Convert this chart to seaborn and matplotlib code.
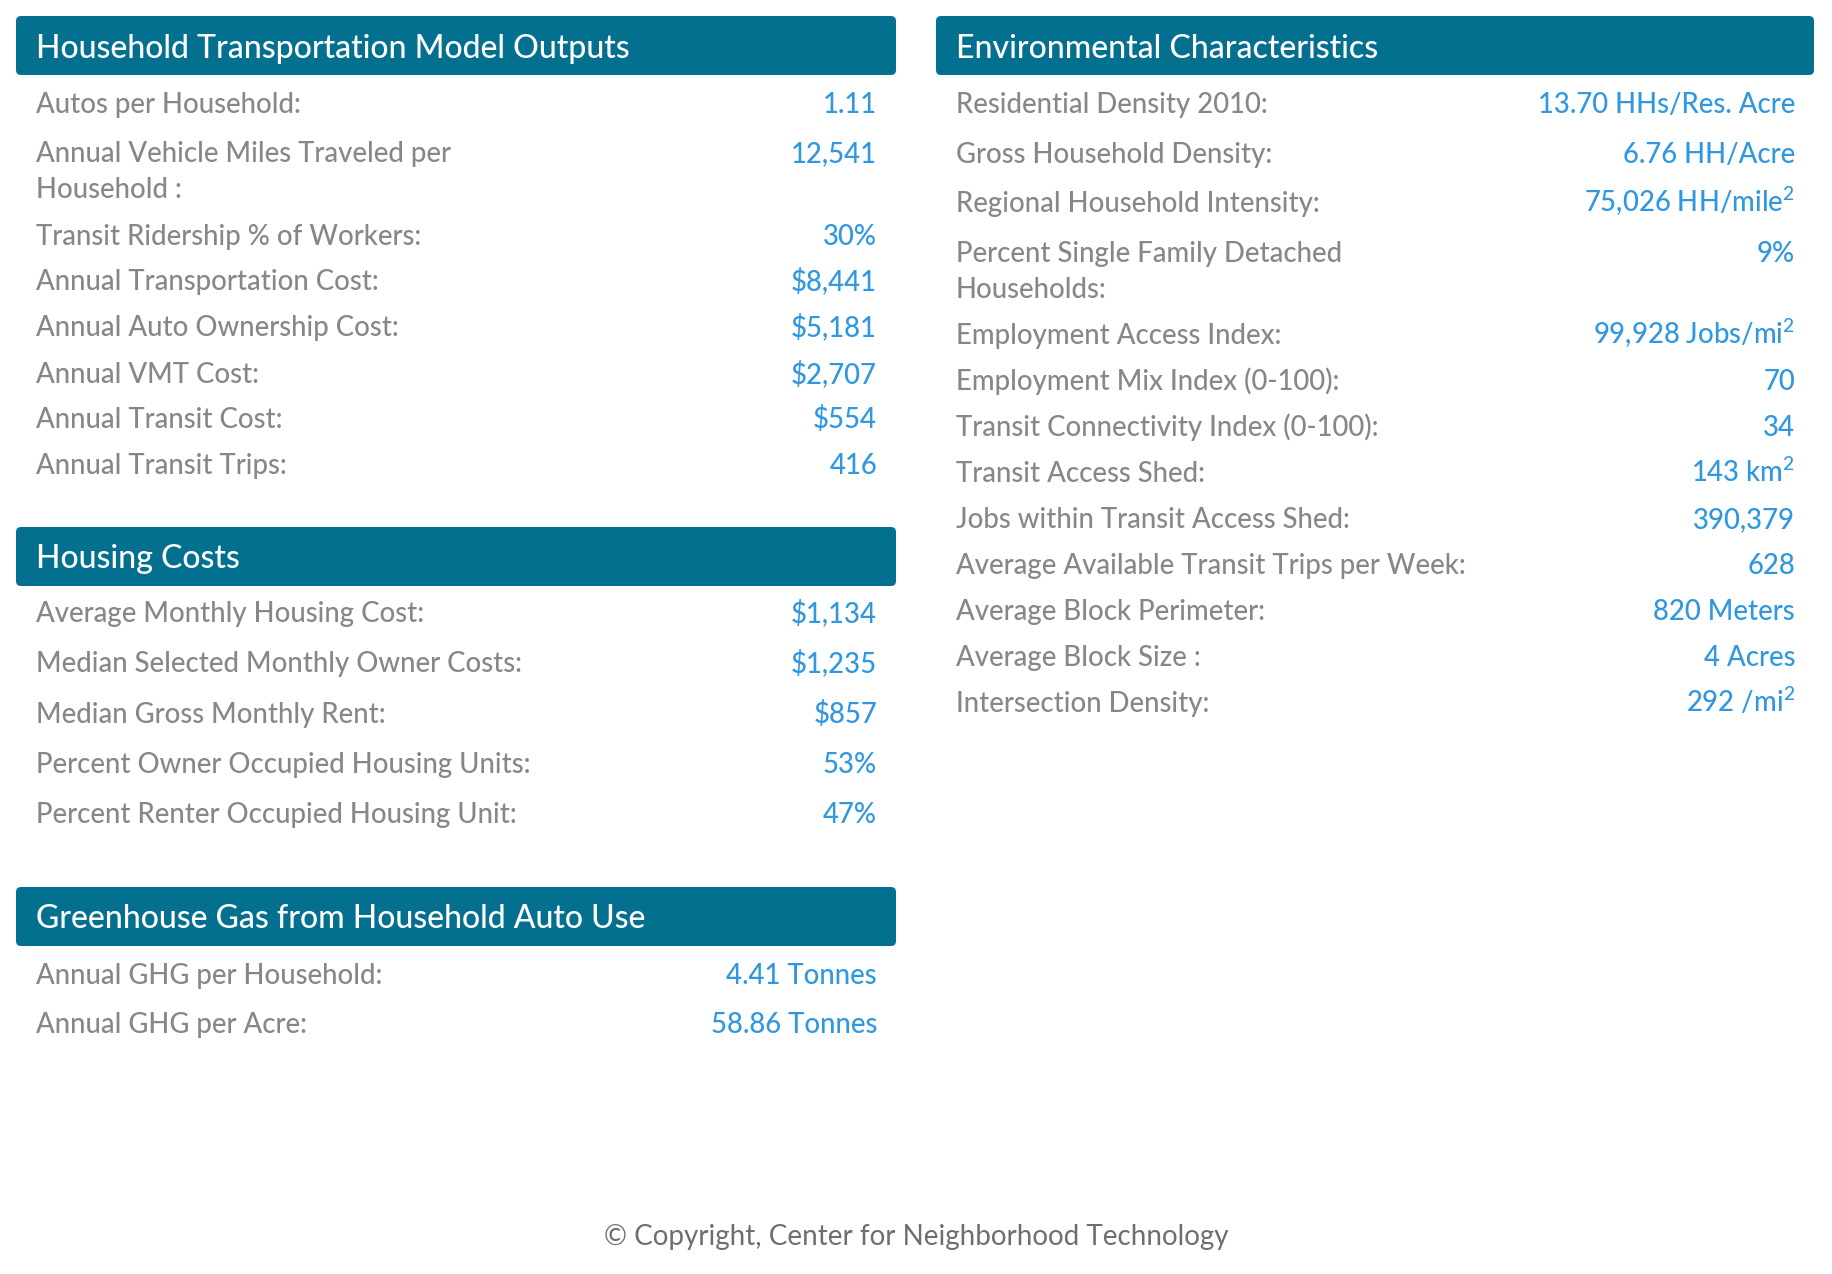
import matplotlib
matplotlib.use("Agg")
import matplotlib.pyplot as plt
from matplotlib.patches import FancyBboxPatch
import seaborn as sns

# ---- values ----
transport_title = "Household Transportation Model Outputs"
transport_labels = [
    "Autos per Household:",
    "Annual Vehicle Miles Traveled per\nHousehold :",
    "Transit Ridership % of Workers:",
    "Annual Transportation Cost:",
    "Annual Auto Ownership Cost:",
    "Annual VMT Cost:",
    "Annual Transit Cost:",
    "Annual Transit Trips:",
]
transport_values = ["1.11", "12,541", "30%", "$8,441", "$5,181", "$2,707", "$554", "416"]

housing_title = "Housing Costs"
housing_labels = [
    "Average Monthly Housing Cost:",
    "Median Selected Monthly Owner Costs:",
    "Median Gross Monthly Rent:",
    "Percent Owner Occupied Housing Units:",
    "Percent Renter Occupied Housing Unit:",
]
housing_values = ["$1,134", "$1,235", "$857", "53%", "47%"]

ghg_title = "Greenhouse Gas from Household Auto Use"
ghg_labels = ["Annual GHG per Household:", "Annual GHG per Acre:"]
ghg_values = ["4.41 Tonnes", "58.86 Tonnes"]

env_title = "Environmental Characteristics"
env_labels = [
    "Residential Density 2010:",
    "Gross Household Density:",
    "Regional Household Intensity:",
    "Percent Single Family Detached\nHouseholds:",
    "Employment Access Index:",
    "Employment Mix Index (0-100):",
    "Transit Connectivity Index (0-100):",
    "Transit Access Shed:",
    "Jobs within Transit Access Shed:",
    "Average Available Transit Trips per Week:",
    "Average Block Perimeter:",
    "Average Block Size :",
    "Intersection Density:",
]
env_values = [
    "13.70 HHs/Res. Acre", "6.76 HH/Acre", "75,026 HH/mile$^2$", "9%",
    "99,928 Jobs/mi$^2$", "70", "34", "143 km$^2$", "390,379", "628",
    "820 Meters", "4 Acres", "292 /mi$^2$",
]

copyright_text = "\u00a9 Copyright, Center for Neighborhood Technology"

# ---- layout (pixels, top-down) ----
W, H = 1832, 1274
LEFT = (16, 896)
RIGHT = (936, 1814)
transport_rows = [104, 153, 236, 281, 327, 374, 419, 465]
housing_rows = [613, 663, 714, 764, 814]
ghg_rows = [975, 1024]
env_rows = [104, 154, 203, 253, 335, 381, 427, 473, 519, 565, 611, 657, 703]

HEADER = "#04708f"
LABEL = "#878787"
VALUE = "#2f98e0"
FOOT = "#6e6e6e"
ROW_FS = 19.8
TITLE_FS = 23

sns.set_theme(style="white")
plt.rcParams["font.family"] = ["Lato", "DejaVu Sans"]
plt.rcParams["mathtext.fontset"] = "custom"
plt.rcParams["mathtext.rm"] = "Lato"
plt.rcParams["mathtext.it"] = "Lato"
plt.rcParams["mathtext.default"] = "regular"


def draw_section(ax, title, cols, top, bottom, labels, values, rows):
    x0, x1 = cols
    box = FancyBboxPatch((x0, top), x1 - x0, bottom - top,
                         boxstyle="round,pad=0,rounding_size=5",
                         facecolor=HEADER, edgecolor="none")
    ax.add_patch(box)
    ax.text(x0 + 20, (top + bottom) / 2 + 12, title, color="white",
            fontsize=TITLE_FS, fontweight="medium", ha="left", va="baseline")
    for lab, val, y in zip(labels, values, rows):
        for i, line in enumerate(lab.split("\n")):
            ax.text(x0 + 20, y + 9 + i * 36, line, color=LABEL,
                    fontsize=ROW_FS, fontweight="medium", ha="left", va="baseline")
        ax.text(x1 - 19, y + 9, val, color=VALUE, fontsize=ROW_FS,
                fontweight="medium", ha="right", va="baseline")


fig = plt.figure(figsize=(W / 100, H / 100), dpi=100)
ax = fig.add_axes([0, 0, 1, 1])
ax.set_xlim(0, W)
ax.set_ylim(H, 0)
ax.axis("off")

draw_section(ax, transport_title, LEFT, 16, 75, transport_labels, transport_values, transport_rows)
draw_section(ax, housing_title, LEFT, 527, 586, housing_labels, housing_values, housing_rows)
draw_section(ax, ghg_title, LEFT, 887, 946, ghg_labels, ghg_values, ghg_rows)
draw_section(ax, env_title, RIGHT, 16, 75, env_labels, env_values, env_rows)

ax.text(W / 2, 1245, copyright_text, color=FOOT, fontsize=20,
        ha="center", va="baseline")

fig.savefig("out.png", dpi=100, facecolor="white")
